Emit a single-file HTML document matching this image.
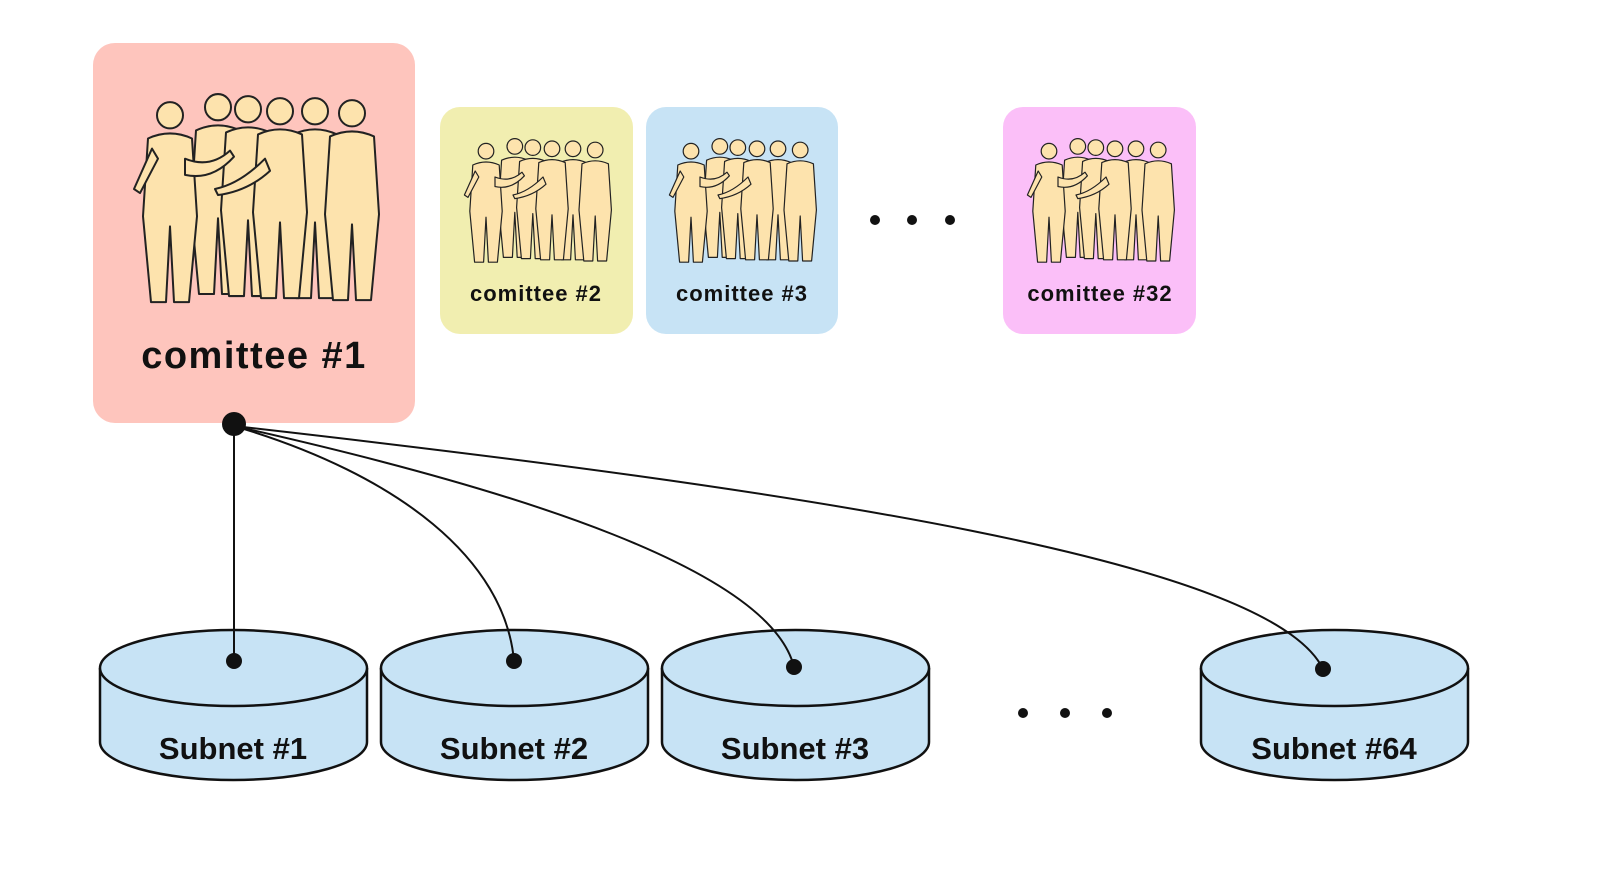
<!DOCTYPE html>
<html><head><meta charset="utf-8"><style>
body{margin:0;width:1600px;height:873px;background:#fff;overflow:hidden;font-family:"Liberation Sans",sans-serif}
</style></head><body>
<svg width="1600" height="873" viewBox="0 0 1600 873" xmlns="http://www.w3.org/2000/svg">
<defs>
<g id="p">
<circle cx="0" cy="15" r="13"/>
<path d="M-22,38 Q0,28 22,38 L27,115 L19,200 L4,200 L0,125 L-4,200 L-19,200 L-27,115 Z"/>
</g>
<g id="crowd" fill="#fde3ad" stroke="#222" stroke-width="2" stroke-linejoin="round">
<use href="#p" x="88" y="4"/>
<use href="#p" x="118" y="6"/>
<use href="#p" x="185" y="8"/>
<use href="#p" x="222" y="10"/>
<use href="#p" x="40" y="12"/>
<use href="#p" x="150" y="8"/>
<path d="M55,70 Q80,80 100,62 L104,68 Q82,92 55,86 Z"/>
<path d="M135,70 Q110,95 85,100 L88,106 Q118,102 140,82 Z"/>
<path d="M22,60 L4,100 L10,104 L28,70 Z"/>
</g>
</defs>

<rect x="93" y="43" width="322" height="380" rx="22" fill="#fec5bd"/>
<use href="#crowd" transform="translate(130,88) scale(1,1.01)"/>
<text x="254" y="368" text-anchor="middle" font-size="38" font-weight="bold" letter-spacing="1.5" fill="#111">comittee #1</text>

<rect x="440" y="107" width="193" height="227" rx="20" fill="#f1eeb0"/>
<use href="#crowd" transform="translate(462,135) scale(0.6)"/>
<text x="536" y="301" text-anchor="middle" font-size="22" font-weight="bold" letter-spacing="1" fill="#111">comittee #2</text>

<rect x="646" y="107" width="192" height="227" rx="20" fill="#c7e3f5"/>
<use href="#crowd" transform="translate(667,135) scale(0.6)"/>
<text x="742" y="301" text-anchor="middle" font-size="22" font-weight="bold" letter-spacing="1" fill="#111">comittee #3</text>

<rect x="1003" y="107" width="193" height="227" rx="20" fill="#fbbff8"/>
<use href="#crowd" transform="translate(1025,135) scale(0.6)"/>
<text x="1100" y="301" text-anchor="middle" font-size="22" font-weight="bold" letter-spacing="1" fill="#111">comittee #32</text>

<g fill="#111">
<circle cx="875" cy="220" r="5"/><circle cx="912" cy="220" r="5"/><circle cx="950" cy="220" r="5"/>
<circle cx="1023" cy="713" r="5"/><circle cx="1065" cy="713" r="5"/><circle cx="1107" cy="713" r="5"/>
</g>

<g stroke="#111" stroke-width="2.5" fill="#c7e3f5">
<g id="cyl">
<path d="M100,668 L100,742 A133.5,38 0 0 0 367,742 L367,668"/>
<ellipse cx="233.5" cy="668" rx="133.5" ry="38"/>
</g>
<use href="#cyl" x="281"/>
<use href="#cyl" x="562"/>
<use href="#cyl" x="1101"/>
</g>
<g font-size="31" font-weight="bold" fill="#111" text-anchor="middle">
<text x="233" y="759">Subnet #1</text>
<text x="514" y="759">Subnet #2</text>
<text x="795" y="759">Subnet #3</text>
<text x="1334" y="759">Subnet #64</text>
</g>

<g stroke="#111" stroke-width="2" fill="none">
<path d="M234,424 L234,661"/>
<path d="M234,426 C400,475 505,560 514,661"/>
<path d="M234,426 C520,490 770,570 794,667"/>
<path d="M234,426 C800,490 1270,560 1323,669"/>
</g>
<g fill="#111">
<circle cx="234" cy="424" r="12"/>
<circle cx="234" cy="661" r="8"/>
<circle cx="514" cy="661" r="8"/>
<circle cx="794" cy="667" r="8"/>
<circle cx="1323" cy="669" r="8"/>
</g>
</svg>
</body></html>
